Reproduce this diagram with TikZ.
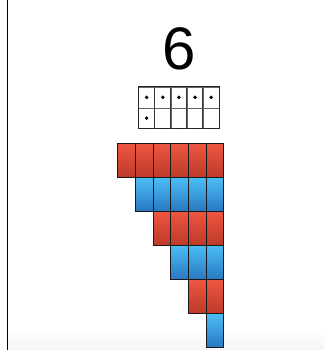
\documentclass[tikz,border=0pt]{standalone}
\usepackage{fontspec}
\setmainfont{Liberation Sans}
\definecolor{redtop}{HTML}{EE5642}
\definecolor{redbot}{HTML}{BC3A28}
\definecolor{bluetop}{HTML}{4CBDF5}
\definecolor{bluebot}{HTML}{2878C2}
\begin{document}
\begin{tikzpicture}[x=1pt,y=-1pt,
  bead/.style={draw=black!90,line width=1pt,inner sep=0pt,minimum width=17.67pt,minimum height=34pt,anchor=north west},
  redbead/.style={bead,top color=redtop,bottom color=redbot},
  bluebead/.style={bead,top color=bluetop,bottom color=bluebot},
  framecell/.style={draw=black!60,line width=0.5pt,inner sep=0pt,minimum width=16.14pt,minimum height=20.8pt,anchor=north west},
  dotmark/.style={circle,fill=black,inner sep=0pt,minimum size=3.8pt}]
\useasboundingbox (0,0) rectangle (324,350);
\fill[white] (0,0) rectangle (324,350);
\shade[top color=white,bottom color=black!4] (8,330) rectangle (324,350);
\draw[line width=1.2pt] (7.5,0) -- (7.5,350);
% numeral
\node[font=\fontsize{60}{60}\selectfont,inner sep=0pt,anchor=base] (num) at (179,69.5) {6};
% ten frame
\foreach \r in {0,1}{
  \foreach \c in {0,...,4}{
    \node[framecell] (f\r\c) at ({138.3+16.14*\c},{86.7+20.8*\r}) {};
  }
}
\draw[line width=1.2pt,black!85] (f00.north west) rectangle (f14.south east);
\foreach \c in {1,...,4}{
  \draw[line width=0.9pt,black!80] (f0\c.north west) -- (f1\c.south west);
}
\foreach \c in {0,...,4}{
  \node[dotmark] (d0\c) at (f0\c.center) {};
}
\node[dotmark] (d10) at (f10.center) {};
% beads
\foreach \r in {0,...,5}{
  \pgfmathtruncatemacro{\isred}{mod(\r,2)==0 ? 1 : 0}
  \foreach \c in {\r,...,5}{
    \ifnum\isred=1
      \node[redbead] (b\r\c) at ({117.3+17.67*\c},{143+34*\r}) {};
    \else
      \node[bluebead] (b\r\c) at ({117.3+17.67*\c},{143+34*\r}) {};
    \fi
  }
}
\end{tikzpicture}
\end{document}
